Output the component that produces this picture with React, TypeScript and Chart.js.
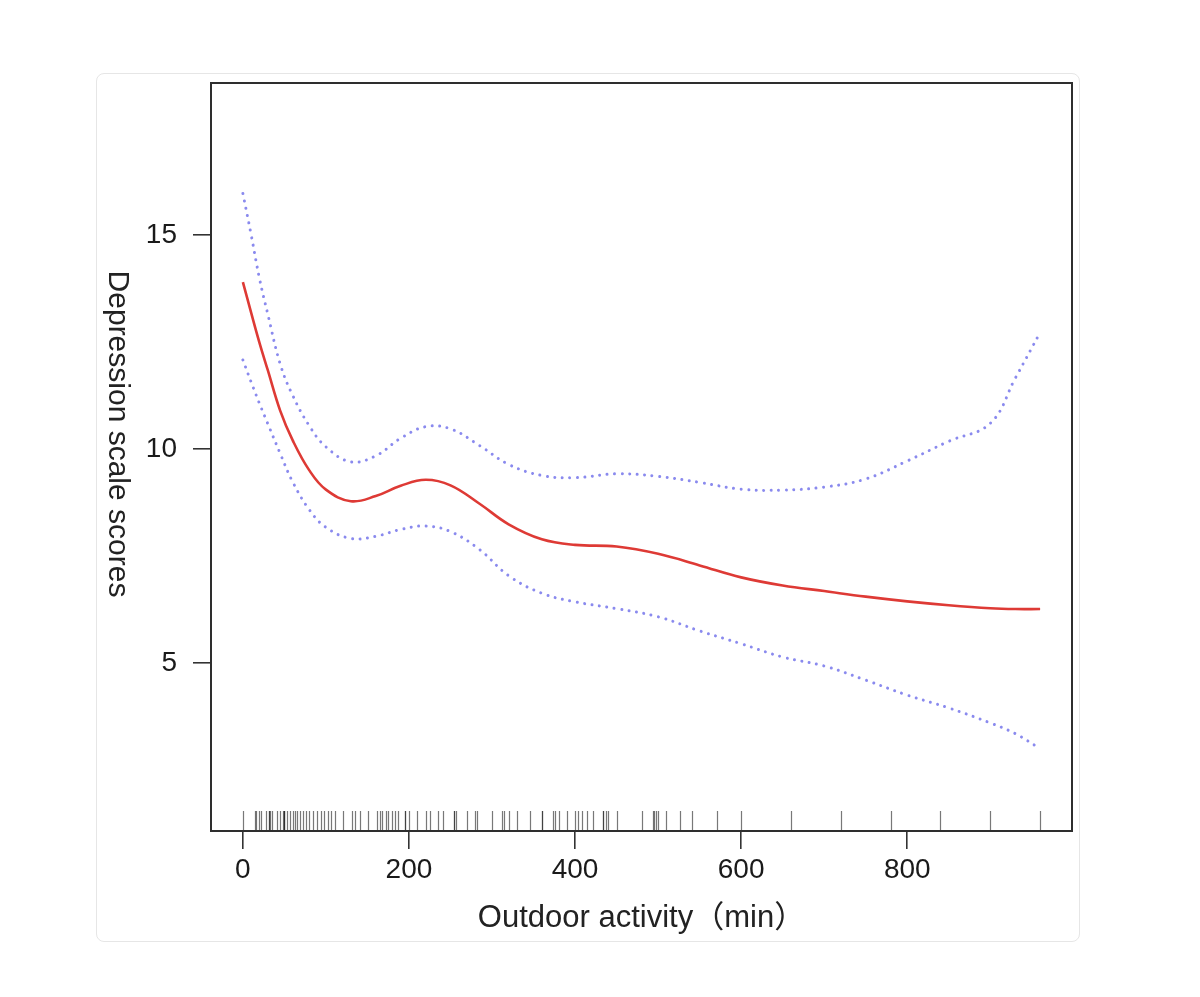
import React, { useEffect, useRef } from "react";
import { Chart, registerables } from "chart.js";

Chart.register(...registerables);

// Outdoor activity (min) grid at which curves were read
const xValues = [0, 10, 20, 30, 45, 60, 80, 100, 130, 160, 190, 220, 250, 285, 320, 360, 400, 450, 500, 550, 600, 650, 700, 750, 800, 850, 900, 930, 960];
// Fitted depression score (red solid line)
const fitValues = [13.9, 13.18, 12.48, 11.84, 10.89, 10.2, 9.5, 9.05, 8.78, 8.9, 9.14, 9.28, 9.15, 8.72, 8.24, 7.89, 7.76, 7.72, 7.55, 7.28, 7.0, 6.81, 6.68, 6.55, 6.44, 6.35, 6.28, 6.26, 6.26];
// Upper 95% CI (blue dotted)
const upperValues = [15.97, 15.0, 13.98, 13.15, 11.98, 11.25, 10.54, 10.05, 9.7, 9.84, 10.25, 10.52, 10.47, 10.08, 9.64, 9.38, 9.33, 9.42, 9.36, 9.22, 9.06, 9.04, 9.11, 9.3, 9.72, 10.18, 10.6, 11.65, 12.72];
// Lower 95% CI (blue dotted)
const lowerValues = [12.08, 11.56, 11.06, 10.59, 9.89, 9.23, 8.58, 8.17, 7.91, 7.96, 8.12, 8.2, 8.07, 7.65, 7.04, 6.63, 6.43, 6.27, 6.08, 5.75, 5.45, 5.14, 4.93, 4.6, 4.25, 3.95, 3.6, 3.35, 3.0];
// Rug: observed outdoor activity values
const rugValues = [0, 14, 16, 20, 22, 28, 31, 31, 33, 35, 41, 45, 48, 49, 49, 50, 53, 57, 60, 63, 65, 69, 72, 76, 80, 85, 89, 94, 98, 103, 106, 111, 121, 131, 135, 141, 151, 161, 165, 168, 172, 175, 179, 183, 187, 195, 195, 200, 210, 220, 225, 235, 241, 254, 254, 257, 270, 280, 282, 300, 312, 315, 320, 330, 346, 360, 360, 374, 376, 381, 390, 400, 404, 408, 414, 421, 434, 434, 437, 440, 450, 480, 494, 495, 498, 500, 510, 526, 541, 571, 600, 660, 720, 780, 840, 900, 960];
const xTicks = [0, 200, 400, 600, 800];
const yTicks = [5, 10, 15];
const xTitle = "Outdoor activity（min）";
const yTitle = "Depression scale scores";

const FONT = '"Liberation Sans", Arial, "Noto Sans CJK SC", sans-serif';

const decorPlugin = {
  id: "decor",
  beforeDatasetsDraw(chart: any) {
    const { ctx, chartArea, scales } = chart;
    const xs = scales.x;
    ctx.save();
    ctx.strokeStyle = "rgba(30,30,30,0.6)";
    ctx.lineWidth = 1.2;
    for (const v of rugValues) {
      const px = Math.round(xs.getPixelForValue(v)) + 0.5;
      ctx.beginPath();
      ctx.moveTo(px, chartArea.bottom - 20);
      ctx.lineTo(px, chartArea.bottom);
      ctx.stroke();
    }
    ctx.restore();
  },
  afterDraw(chart: any) {
    const { ctx, chartArea } = chart;
    ctx.save();
    ctx.strokeStyle = "#2e2e2e";
    ctx.lineWidth = 2;
    ctx.strokeRect(chartArea.left, chartArea.top, chartArea.right - chartArea.left, chartArea.bottom - chartArea.top);
    ctx.fillStyle = "#222";
    ctx.textAlign = "center";
    ctx.textBaseline = "middle";
    ctx.font = `31px ${FONT}`;
    ctx.fillText(xTitle, (chartArea.left + chartArea.right) / 2, 844);
    ctx.font = `30px ${FONT}`;
    ctx.translate(20, 360);
    ctx.rotate(Math.PI / 2);
    ctx.fillText(yTitle, 0, 0);
    ctx.restore();
  },
};

const zeroPad = (s: any) => {
  s.paddingTop = 0;
  s.paddingBottom = 0;
  s.paddingLeft = 0;
  s.paddingRight = 0;
};

export default function App() {
  const ref = useRef<HTMLCanvasElement>(null);
  useEffect(() => {
    if (!ref.current) return;
    const mk = (arr: number[]) => xValues.map((x, i) => ({ x, y: arr[i] }));
    const dotted = {
      borderColor: "rgba(118,118,235,0.85)",
      borderWidth: 3,
      borderDash: [0.01, 7.5],
      borderCapStyle: "round",
      pointRadius: 0,
      tension: 0.4,
      fill: false,
    };
    const chart = new Chart(ref.current, {
      type: "line",
      data: {
        datasets: [
          { label: "upper", data: mk(upperValues), ...dotted } as any,
          { label: "lower", data: mk(lowerValues), ...dotted } as any,
          {
            label: "fit",
            data: mk(fitValues),
            borderColor: "#de3a35",
            borderWidth: 2.6,
            pointRadius: 0,
            tension: 0.4,
            fill: false,
          },
        ],
      },
      options: {
        responsive: false,
        animation: false,
        layout: { padding: { top: 9, right: 7, left: 0, bottom: 0 } },
        plugins: { legend: { display: false }, tooltip: { enabled: false } },
        scales: {
          x: {
            type: "linear",
            min: -38.4,
            max: 998.4,
            afterBuildTicks: (s: any) => { s.ticks = xTicks.map((v) => ({ value: v })); },
            afterFit: (s: any) => { s.height = 110; zeroPad(s); },
            border: { display: false },
            grid: { drawOnChartArea: false, drawTicks: true, tickLength: 18, color: "#333", lineWidth: 1.6 },
            ticks: { color: "#1a1a1a", font: { family: FONT, size: 28 }, padding: 4, maxRotation: 0, autoSkip: false },
          },
          y: {
            type: "linear",
            min: 1.075,
            max: 18.55,
            afterBuildTicks: (s: any) => { s.ticks = yTicks.map((v) => ({ value: v })); },
            afterFit: (s: any) => { s.width = 114; zeroPad(s); },
            border: { display: false },
            grid: { drawOnChartArea: false, drawTicks: true, tickLength: 18, color: "#333", lineWidth: 1.6 },
            ticks: { color: "#1a1a1a", font: { family: FONT, size: 28 }, padding: 16 },
          },
        },
      } as any,
      plugins: [decorPlugin],
    });
    return () => chart.destroy();
  }, []);
  return (
    <div style={{ paddingLeft: 88, paddingTop: 65 }}>
      <div style={{ width: 982, height: 867, border: "1px solid #e6e6e6", borderRadius: 8, background: "#fff" }}>
        <canvas ref={ref} width={982} height={867} style={{ display: "block" }} />
      </div>
    </div>
  );
}
